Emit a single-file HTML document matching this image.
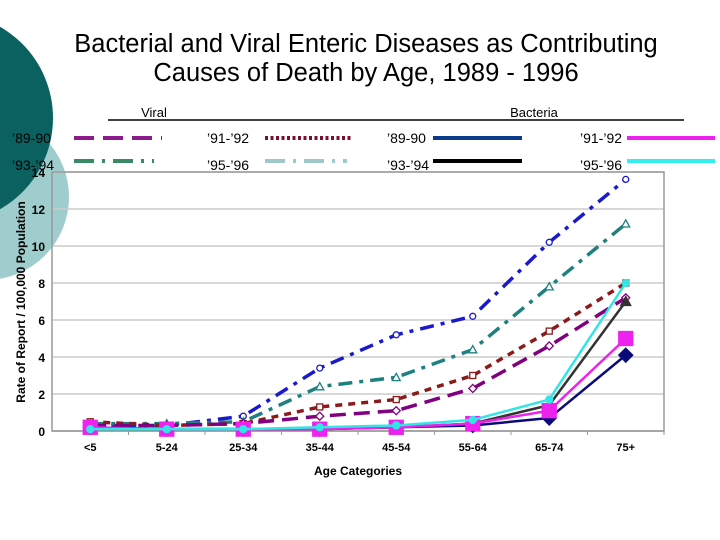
<!DOCTYPE html>
<html><head><meta charset="utf-8">
<style>
body{margin:0;width:720px;height:540px;overflow:hidden;background:#fff;font-family:"Liberation Sans",Arial,sans-serif;position:relative}
</style></head><body>
<svg id="chart" width="720" height="540" style="position:absolute;left:0;top:0">
<circle cx="-14" cy="197" r="83" fill="#9fcccc"/>
<circle cx="-52" cy="118" r="105" fill="#0b6060"/>
<text x="366" y="52" font-size="25.5" text-anchor="middle" font-family="Liberation Sans">Bacterial and Viral Enteric Diseases as Contributing</text>
<text x="366" y="81" font-size="25.5" text-anchor="middle" font-family="Liberation Sans">Causes of Death by Age, 1989 - 1996</text>
<g id="legend" font-size="13" font-family="Liberation Sans">
<line x1="108" y1="120" x2="684" y2="120" stroke="#000" stroke-width="1.5"/>
<text x="154" y="117" text-anchor="middle">Viral</text>
<text x="534" y="117" text-anchor="middle">Bacteria</text>
</g>
<g id="plot"></g>
</svg>
<script>
const categories=["<5","5-24","25-34","35-44","45-54","55-64","65-74","75+"];
const yTicks=[0,2,4,6,8,10,12,14];
const viral8990=[0.3,0.3,0.4,0.8,1.1,2.3,4.6,7.2];
const viral9192=[0.5,0.3,0.4,1.3,1.7,3.0,5.4,8.0];
const viral9394=[0.4,0.4,0.5,2.4,2.9,4.4,7.8,11.2];
const viral9596=[0.3,0.3,0.8,3.4,5.2,6.2,10.2,13.6];
const bact8990=[0.2,0.1,0.1,0.1,0.2,0.3,0.7,4.1];
const bact9192=[0.2,0.1,0.1,0.1,0.2,0.4,1.1,5.0];
const bact9394=[0.1,0.1,0.1,0.1,0.2,0.4,1.4,7.0];
const bact9596=[0.1,0.1,0.1,0.2,0.3,0.6,1.7,8.0];

const NS="http://www.w3.org/2000/svg";
const L=52,R=664,T=172,B=431,YMAX=14;
const bw=(R-L)/categories.length;
const x=i=>L+bw*(i+0.5);
const y=v=>B-(v/YMAX)*(B-T);
const plot=document.getElementById('plot');
const legend=document.getElementById('legend');
function mk(tag,at,parent){const e=document.createElementNS(NS,tag);for(const k in at)e.setAttribute(k,at[k]);(parent||plot).appendChild(e);return e;}

yTicks.forEach(t=>{
 const g=mk('line',{x1:L,x2:R,y1:y(t),y2:y(t),stroke:t===0?'#999':'#ccc','stroke-width':1.5});
 
 
 const lb=mk('text',{x:45,y:y(t)+5,'font-size':12,'font-weight':'bold','text-anchor':'end','font-family':'Liberation Sans'});
 lb.textContent=t;
 
 
});
const fr=mk('rect',{x:L,y:T,width:R-L,height:B-T,fill:'none',stroke:'#999','stroke-width':1.5});


categories.forEach((c,i)=>{
 const tk=mk('line',{x1:L+bw*(i+1),x2:L+bw*(i+1),y1:B,y2:B+4,stroke:'#999'});
 
 
 const lb=mk('text',{x:x(i),y:451,'font-size':11,'font-weight':'bold','text-anchor':'middle','font-family':'Liberation Sans'});
 lb.textContent=c;
 
 
});
const xt=mk('text',{x:358,y:475,'font-size':12,'font-weight':'bold','text-anchor':'middle','font-family':'Liberation Sans'});
xt.textContent='Age Categories';


const yt=mk('text',{x:0,y:0,'font-size':12,'font-weight':'bold','text-anchor':'middle','font-family':'Liberation Sans',transform:'translate(25,302) rotate(-90)'});
yt.textContent='Rate of Report / 100,000 Population';



const series=[
 {d:viral9596,c:'#1a1acc',w:3.5,dash:'14 7 4 7',m:'circle',ms:3,fill:'#fff',n:'viral-95-96'},
 {d:viral9394,c:'#1f8080',w:3.5,dash:'14 7 4 7',m:'tri',ms:4,fill:'#fff',n:'viral-93-94'},
 {d:viral9192,c:'#8b1a1a',w:3.5,dash:'7 6',m:'square',ms:3,fill:'#fff',n:'viral-91-92'},
 {d:viral8990,c:'#800080',w:3.5,dash:'16 8',m:'diamond',ms:4,fill:'#fff',n:'viral-89-90'},
 {d:bact8990,c:'#0a0a7a',w:2.5,dash:'',m:'diamond',ms:7,fill:'#0a0a7a',n:'bacteria-89-90'},
 {d:bact9394,c:'#333',w:2.5,dash:'',m:'tri',ms:5,fill:'#333',n:'bacteria-93-94'},
 {d:bact9192,c:'#ee22ee',w:2.5,dash:'',m:'square',ms:7,fill:'#ee22ee',n:'bacteria-91-92'},
 {d:bact9596,c:'#33e5e5',w:2.5,dash:'',m:'circle',ms:3.5,fill:'#33e5e5',n:'bacteria-95-96'}
];
function marker(m,cx,cy,s,col,fill,g){
 let e;
 if(m==='circle')e=mk('circle',{cx,cy,r:s,fill,stroke:col,'stroke-width':1.3},g);
 else if(m==='square')e=mk('rect',{x:cx-s,y:cy-s,width:2*s,height:2*s,fill,stroke:col,'stroke-width':1.3},g);
 else if(m==='diamond')e=mk('polygon',{points:`${cx},${cy-s} ${cx+s},${cy} ${cx},${cy+s} ${cx-s},${cy}`,fill,stroke:col,'stroke-width':1.3},g);
 else e=mk('polygon',{points:`${cx},${cy-s} ${cx+s},${cy+s*0.8} ${cx-s},${cy+s*0.8}`,fill,stroke:col,'stroke-width':1.3},g);
 return e;
}
series.forEach(s=>{
 const g=mk('g',{});
 
 
 const p=mk('polyline',{points:s.d.map((v,i)=>x(i)+','+y(v)).join(' '),fill:'none',stroke:s.c,'stroke-width':s.w,'stroke-dasharray':s.dash,'stroke-linejoin':'round'},g);
 
 
 s.d.forEach((v,i)=>{
  const mm=marker(s.m,x(i),y(v),s.ms,s.c,s.fill,g);
  
  
 });
});

const legRows=[
 {lbl:"’89-90",tx:12,ty:143,x1:74,x2:162,ly:138,c:'#8b1a8b',dash:'20 9',w:4},
 {lbl:"’91-’92",tx:207,ty:143,x1:265,x2:352,ly:138,c:'#7a1030',dash:'3 2.5',w:4},
 {lbl:"’89-90",tx:387,ty:143,x1:433,x2:522,ly:138,c:'#0a3a8a',dash:'',w:4},
 {lbl:"’91-’92",tx:580,ty:143,x1:627,x2:715,ly:138,c:'#ee22ee',dash:'',w:4},
 {lbl:"’93-’94",tx:12,ty:170,x1:74,x2:154,ly:161,c:'#3a8a68',dash:'20 8 3 8',w:4},
 {lbl:"’95-’96",tx:207,ty:170,x1:265,x2:347,ly:161,c:'#a0c8c8',dash:'20 8 3 8',w:4},
 {lbl:"’93-’94",tx:387,ty:170,x1:433,x2:522,ly:161,c:'#000',dash:'',w:4},
 {lbl:"’95-’96",tx:580,ty:170,x1:627,x2:715,ly:161,c:'#33eeee',dash:'',w:4}
];
legRows.forEach(r=>{
 const t=mk('text',{x:r.tx,y:r.ty,'font-size':14,'font-family':'Liberation Sans'},legend);
 t.textContent=r.lbl;
 
 
 const l=mk('line',{x1:r.x1,x2:r.x2,y1:r.ly,y2:r.ly,stroke:r.c,'stroke-width':r.w,'stroke-dasharray':r.dash},legend);
 
 
});
</script>
</body></html>
